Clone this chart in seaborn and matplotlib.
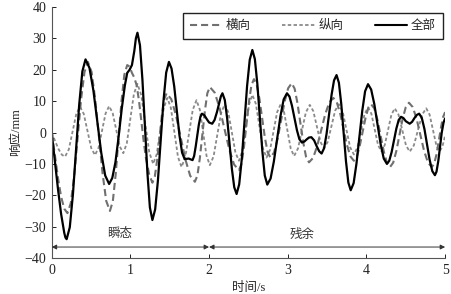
import matplotlib
matplotlib.use("Agg")
import matplotlib.pyplot as plt
import seaborn as sns
import pandas as pd
from matplotlib.lines import Line2D

# ---- data ----
# 全部 (total response)
t_all = [0.00, 0.04, 0.08, 0.12, 0.16, 0.175, 0.19,
         0.23, 0.27, 0.31, 0.35, 0.39, 0.43,
         0.48, 0.53, 0.58, 0.63, 0.68, 0.73,
         0.77, 0.81, 0.85, 0.89, 0.93, 0.96, 0.99, 1.02, 1.05, 1.07, 1.09,
         1.122, 1.153, 1.185, 1.217, 1.248, 1.28,
         1.315, 1.35, 1.385, 1.42, 1.455, 1.49,
         1.523, 1.557, 1.59, 1.623, 1.657, 1.69, 1.74, 1.79,
         1.81, 1.83, 1.85, 1.87, 1.89, 1.91, 1.94, 1.97, 2.00, 2.04,
         2.07, 2.10, 2.13, 2.15, 2.17,
         2.20, 2.23, 2.26, 2.29, 2.32, 2.35,
         2.383, 2.417, 2.45, 2.483, 2.517, 2.55,
         2.582, 2.613, 2.645, 2.677, 2.708, 2.74,
         2.782, 2.823, 2.865, 2.907, 2.948, 2.99,
         3.022, 3.053, 3.085, 3.117, 3.148, 3.18,
         3.21, 3.24, 3.27, 3.30, 3.335, 3.37, 3.40, 3.43,
         3.462, 3.493, 3.525, 3.557, 3.588, 3.62,
         3.65, 3.68, 3.71, 3.74, 3.77, 3.80,
         3.837, 3.873, 3.91, 3.947, 3.983, 4.02,
         4.06, 4.10, 4.14, 4.18, 4.22, 4.26,
         4.29, 4.32, 4.35, 4.38, 4.41, 4.44,
         4.47, 4.50, 4.55, 4.58, 4.61, 4.64, 4.67,
         4.703, 4.737, 4.77, 4.803, 4.837, 4.87,
         4.89, 4.913, 4.935, 4.957, 4.98, 5.00]
y_all = [0.0, -9.0, -18.0, -26.0, -32.0, -33.5, -34.0,
         -30.2, -19.7, -5.35, 9.0, 19.5, 23.3,
         20.6, 13.4, 3.45, -6.5, -13.7, -16.4,
         -14.5, -9.5, -1.5, 7.5, 15.0, 19.0, 20.0, 21.5, 26.0, 30.0, 31.8,
         27.8, 16.9, 1.95, -13.0, -23.9, -27.9,
         -24.5, -15.3, -2.7, 9.9, 19.1, 22.5,
         20.4, 14.75, 7.0, -0.75, -6.4, -8.5, -8.3, -8.8,
         -7.5, -4.5, -1.0, 2.5, 5.0, 6.0, 5.5, 4.3, 3.2, 2.8,
         4.0, 6.5, 9.5, 11.5, 12.5,
         10.35, 4.5, -3.55, -11.6, -17.45, -19.6,
         -16.5, -8.1, 3.35, 14.8, 23.2, 26.3,
         23.4, 15.6, 4.85, -5.9, -13.7, -16.6,
         -14.65, -9.3, -2.05, 5.2, 10.55, 12.5,
         11.45, 8.6, 4.65, 0.7, -2.15, -3.2,
         -2.9, -2.2, -1.6, -1.5, -2.5, -4.5, -6.0, -6.7,
         -5.0, -0.45, 5.8, 12.05, 16.6, 18.3,
         15.85, 9.1, -0.05, -9.2, -15.95, -18.4,
         -16.15, -9.95, -1.5, 6.95, 13.15, 15.4,
         13.7, 9.05, 2.7, -3.65, -8.3, -10.0,
         -9.0, -6.25, -2.5, 1.25, 4.0, 5.0,
         4.6, 3.6, 2.8, 3.4, 4.6, 5.6, 6.0,
         4.7, 1.1, -3.8, -8.7, -12.3, -13.6,
         -12.5, -9.1, -4.5, 0.0, 3.2, 4.5]

# 横向 (lateral)
t_lat = [0.00, 0.04, 0.08, 0.12, 0.16, 0.20,
         0.243, 0.287, 0.33, 0.373, 0.417, 0.46,
         0.507, 0.553, 0.60, 0.647, 0.693, 0.74,
         0.777, 0.813, 0.85, 0.887, 0.923, 0.96,
         0.99, 1.02, 1.05, 1.08, 1.11, 1.14, 1.17, 1.20, 1.24, 1.28,
         1.31, 1.34, 1.37, 1.40, 1.43, 1.46,
         1.52, 1.58, 1.64, 1.70, 1.76, 1.82,
         1.852, 1.883, 1.915, 1.947, 1.978, 2.01,
         2.072, 2.133, 2.195, 2.257, 2.318, 2.38,
         2.412, 2.443, 2.475, 2.507, 2.538, 2.57,
         2.605, 2.64, 2.675, 2.71, 2.745, 2.78,
         2.825, 2.87, 2.915, 2.96, 3.005, 3.05,
         3.087, 3.123, 3.16, 3.197, 3.233, 3.27,
         3.322, 3.373, 3.425, 3.477, 3.528, 3.58,
         3.623, 3.667, 3.71, 3.753, 3.797, 3.84,
         3.877, 3.913, 3.95, 3.987, 4.023, 4.06,
         4.10, 4.14, 4.18, 4.22, 4.26, 4.30,
         4.34, 4.38, 4.42, 4.46, 4.50, 4.54,
         4.588, 4.637, 4.685, 4.733, 4.782, 4.83,
         4.86, 4.89, 4.92, 4.95, 4.975, 5.00]
y_lat = [0.0, -7.0, -14.5, -20.5, -24.3, -25.7,
         -22.5, -13.65, -1.6, 10.45, 19.3, 22.5,
         19.3, 10.6, -1.25, -13.1, -21.8, -25.0,
         -21.9, -13.4, -1.75, 9.9, 18.4, 21.5,
         21.0, 19.0, 17.5, 15.0, 10.0, 3.5, -3.0, -8.5, -13.5, -16.0,
         -14.1, -8.9, -1.75, 5.4, 10.6, 12.5,
         10.6, 5.45, -1.6, -8.65, -13.8, -15.7,
         -13.7, -8.15, -0.6, 6.95, 12.5, 14.5,
         12.7, 7.9, 1.25, -5.4, -10.2, -12.0,
         -10.05, -4.75, 2.5, 9.75, 15.05, 17.0,
         15.3, 10.75, 4.5, -1.75, -6.3, -8.0,
         -6.4, -2.1, 3.85, 9.8, 14.1, 15.7,
         14.0, 9.4, 3.1, -3.2, -7.8, -9.5,
         -8.1, -4.4, 0.75, 5.9, 9.6, 11.0,
         9.65, 6.0, 1.0, -4.0, -7.65, -9.0,
         -7.8, -4.5, 0.0, 4.5, 7.8, 9.0,
         7.65, 4.0, -1.0, -6.0, -9.65, -11.0,
         -9.6, -5.9, -0.75, 4.4, 8.1, 9.5,
         8.1, 4.4, -0.75, -5.9, -9.6, -11.0,
         -10.0, -7.0, -2.5, 2.0, 5.0, 6.5]

# 纵向 (longitudinal)
t_lon = [0.00, 0.04, 0.085, 0.13, 0.17,
         0.2175, 0.265, 0.3125, 0.36,
         0.4075, 0.455, 0.5025, 0.55,
         0.595, 0.64, 0.685, 0.73,
         0.775, 0.82, 0.865, 0.91,
         0.955, 1.00, 1.045, 1.09,
         1.14, 1.19, 1.24, 1.29,
         1.335, 1.38, 1.425, 1.47,
         1.515, 1.56, 1.605, 1.65,
         1.6975, 1.745, 1.7925, 1.84,
         1.8825, 1.925, 1.9675, 2.01,
         2.0575, 2.105, 2.1525, 2.20,
         2.245, 2.29, 2.335, 2.38,
         2.4225, 2.465, 2.5075, 2.55,
         2.595, 2.64, 2.685, 2.73,
         2.775, 2.82, 2.865, 2.91,
         2.9525, 2.995, 3.0375, 3.08,
         3.13, 3.18, 3.23, 3.28,
         3.325, 3.37, 3.415, 3.46,
         3.5075, 3.555, 3.6025, 3.65,
         3.6975, 3.745, 3.7925, 3.84,
         3.885, 3.93, 3.975, 4.02,
         4.0625, 4.105, 4.1475, 4.19,
         4.2325, 4.275, 4.3175, 4.36,
         4.4075, 4.455, 4.5025, 4.55,
         4.6025, 4.655, 4.7075, 4.76,
         4.8025, 4.845, 4.8875, 4.93,
         4.965, 5.00]
y_lon = [0.0, -2.5, -5.2, -7.1, -7.7,
         -5.4, 0.25, 5.9, 8.2,
         5.95, 0.5, -4.95, -7.2,
         -4.9, 0.6, 6.1, 8.4,
         6.2, 0.9, -4.4, -6.6,
         -3.4, 4.45, 12.3, 15.5,
         11.8, 2.75, -6.3, -10.0,
         -6.9, 0.5, 7.9, 11.0,
         7.8, 0.0, -7.8, -11.0,
         -7.9, -0.35, 7.2, 10.3,
         7.3, -0.05, -7.4, -10.4,
         -7.6, -0.7, 6.2, 9.0,
         6.4, 0.0, -6.4, -9.0,
         -5.9, 1.5, 8.9, 12.0,
         9.1, 2.0, -5.1, -8.0,
         -5.5, 0.5, 6.5, 9.0,
         6.6, 0.75, -5.1, -7.5,
         -5.1, 0.65, 6.4, 8.8,
         6.8, 1.9, -3.0, -5.0,
         -3.0, 2.0, 7.0, 9.0,
         6.7, 1.0, -4.7, -7.0,
         -4.8, 0.5, 5.8, 8.0,
         6.0, 1.0, -4.0, -6.0,
         -4.0, 0.85, 5.7, 7.7,
         5.7, 0.8, -4.1, -6.1,
         -4.1, 0.8, 5.7, 7.7,
         5.7, 0.85, -4.0, -6.0,
         -4.5, -1.0]

series_names = ["横向", "纵向", "全部"]
y_ticks = [-40, -30, -20, -10, 0, 10, 20, 30, 40]
x_ticks = [0, 1, 2, 3, 4, 5]
phase_labels = ["瞬态", "残余"]
phase_bounds = [0, 2, 5]

# ---- style ----
sns.set_style("ticks")
plt.rcParams["font.family"] = ["Liberation Serif", "Noto Sans CJK SC"]
plt.rcParams["axes.unicode_minus"] = True

fig = plt.figure(figsize=(4.51, 2.94), dpi=100)
ax = fig.add_axes([0.1146, 0.1224, 0.8724, 0.8538])

c_lat = "#707070"
c_lon = "#8a8a8a"
ls_lat = (0, (3.4, 1.9))
ls_lon = (0, (1.9, 1.3))

df_lon = pd.DataFrame({"t": t_lon, "y": y_lon})
df_lat = pd.DataFrame({"t": t_lat, "y": y_lat})
df_all = pd.DataFrame({"t": t_all, "y": y_all})

sns.lineplot(data=df_lon, x="t", y="y", ax=ax, color=c_lon, linestyle=ls_lon,
             linewidth=1.3, estimator=None, sort=False)
sns.lineplot(data=df_lat, x="t", y="y", ax=ax, color=c_lat, linestyle=ls_lat,
             linewidth=1.5, estimator=None, sort=False)
sns.lineplot(data=df_all, x="t", y="y", ax=ax, color="black", linestyle="-",
             linewidth=1.6, estimator=None, sort=False)

ax.set_xlim(0, 5)
ax.set_ylim(-40, 40)
ax.set_xticks(x_ticks)
ax.set_yticks(y_ticks)
ax.set_xticklabels([str(v) for v in x_ticks])
ax.set_yticklabels([str(v).replace("-", "\u2212") for v in y_ticks])
ax.tick_params(direction="in", length=3, width=0.7, labelsize=10, pad=4,
               colors="#222222")
sns.despine(ax=ax)
for s in ("left", "bottom"):
    ax.spines[s].set_linewidth(0.8)
    ax.spines[s].set_color("#555555")

ax.set_xlabel("时间/s", fontsize=9, labelpad=4)
ax.set_ylabel("响应/mm", fontsize=9, labelpad=2)

# phase arrows
ya = -36.5
for i, lab in enumerate(phase_labels):
    x0, x1 = phase_bounds[i], phase_bounds[i + 1]
    ax.annotate("", xy=(x1, ya), xytext=(x0, ya),
                arrowprops=dict(arrowstyle="<|-|>", color="#333333", lw=0.7,
                                mutation_scale=7, shrinkA=0, shrinkB=0))
ax.text(0.86, -32.5, phase_labels[0], fontsize=9, ha="center", va="center", color="#333333")
ax.text(3.18, -32.5, phase_labels[1], fontsize=9, ha="center", va="center", color="#333333")

handles = [
    Line2D([], [], color=c_lat, linestyle=ls_lat, linewidth=1.5),
    Line2D([], [], color=c_lon, linestyle=ls_lon, linewidth=1.3),
    Line2D([], [], color="black", linestyle="-", linewidth=1.5),
]
leg = ax.legend(handles, series_names, ncol=3, loc="upper right",
                bbox_to_anchor=(1.0, 0.985), frameon=True, fancybox=False,
                edgecolor="#222222", framealpha=1, fontsize=9,
                handlelength=2.6, handletextpad=0.3, columnspacing=2.5,
                borderpad=0.55, borderaxespad=0.2)
leg.get_frame().set_linewidth(1.0)

fig.savefig("out.png", dpi=100)
